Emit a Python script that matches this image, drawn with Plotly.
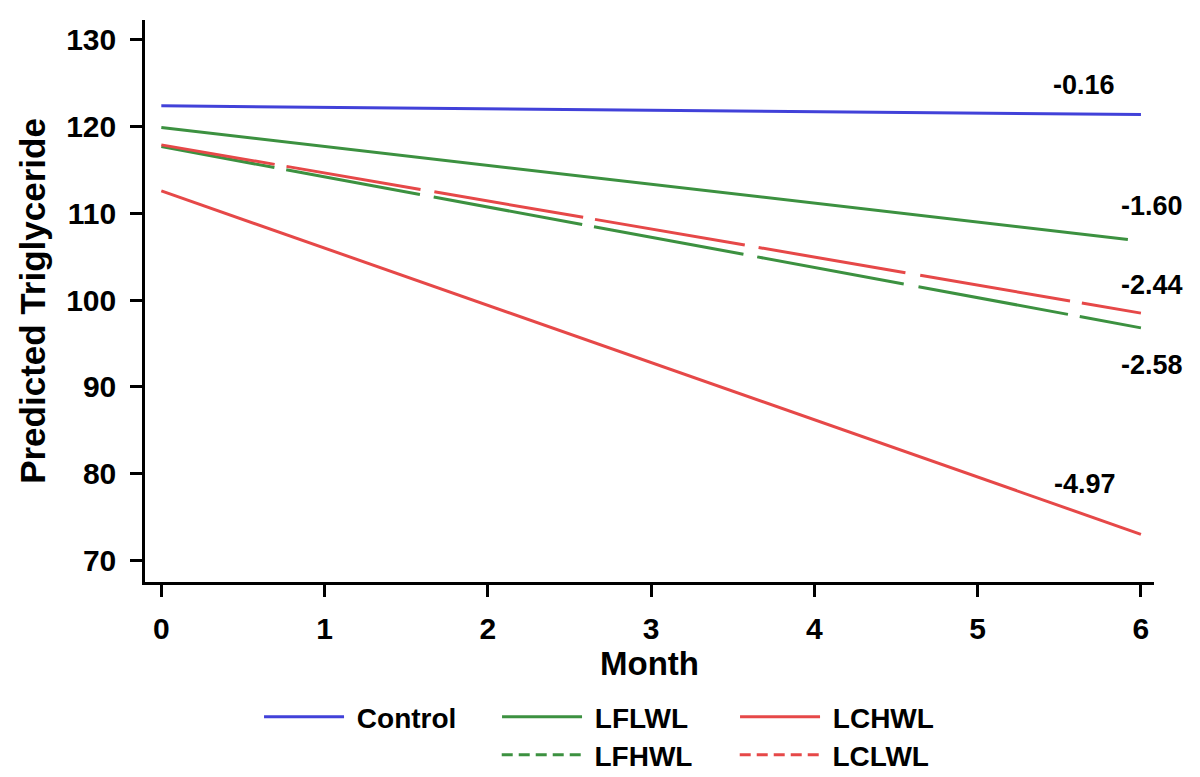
import plotly.graph_objects as go

# values
months = [0, 6]
months_lflwl = [0, 5.92]
control = [122.4, 121.4]
lflwl = [119.9, 107.0]
lfhwl = [117.7, 96.8]
lchwl = [112.6, 73.0]
lclwl = [117.9, 98.5]

slope_labels = ["-0.16", "-1.60", "-2.44", "-2.58", "-4.97"]
label_x = [5.65, 6.07, 6.07, 6.07, 5.66]
label_y = [124.8, 110.8, 101.8, 92.5, 78.8]

BLUE = "#4141D9"
GREEN = "#3C9140"
RED = "#E64848"
FONT = "Liberation Sans, Arial, sans-serif"

# long dashes with short gaps, like the original export
LONG_DASH = "115px,12px,136px,14px,151px,12px,152px,14px,149px,15px,152px,12px,200px"
LEGEND_DASH = "11px,6px"

fig = go.Figure()

series = [
    ("Control", months, control, BLUE, "solid"),
    ("LFLWL", months_lflwl, lflwl, GREEN, "solid"),
    ("LFHWL", months, lfhwl, GREEN, LONG_DASH),
    ("LCHWL", months, lchwl, RED, "solid"),
    ("LCLWL", months, lclwl, RED, LONG_DASH),
]
for name, xs, ys, color, dash in series:
    fig.add_trace(go.Scatter(
        x=xs, y=ys, mode="lines", name=name, showlegend=False,
        line=dict(color=color, width=3, dash=dash),
    ))

# legend keys (row 1 and row 2), short dashes as in the original
legend_rows = [
    ("Control", BLUE, "solid", "legend"),
    ("LFLWL", GREEN, "solid", "legend"),
    ("LCHWL", RED, "solid", "legend"),
    ("LFHWL", GREEN, LEGEND_DASH, "legend2"),
    ("LCLWL", RED, LEGEND_DASH, "legend2"),
]
for name, color, dash, leg in legend_rows:
    fig.add_trace(go.Scatter(
        x=[None], y=[None], mode="lines", name=" " + name, legend=leg,
        line=dict(color=color, width=3, dash=dash),
    ))

for txt, x, y in zip(slope_labels, label_x, label_y):
    fig.add_annotation(x=x, y=y, text=txt, showarrow=False,
                       font=dict(family=FONT, size=27, color="black", weight="bold"))

axis_common = dict(
    showline=True, linecolor="black", linewidth=2.5, mirror=False,
    ticks="outside", ticklen=12, tickwidth=2.5, tickcolor="black",
    showgrid=False, zeroline=False,
    tickfont=dict(family=FONT, size=30, color="black", weight="bold"),
)

fig.update_xaxes(
    range=[-0.1, 6.08], tickmode="array", tickvals=[0, 1, 2, 3, 4, 5, 6],
    ticklabelstandoff=6,
    title=dict(text="Month", font=dict(family=FONT, size=33, color="black", weight="bold"),
               standoff=4),
    **axis_common,
)
fig.update_yaxes(
    range=[67.5, 132.3], tickmode="array", tickvals=[70, 80, 90, 100, 110, 120, 130],
    ticklabelstandoff=8,
    title=dict(text="Predicted Triglyceride",
               font=dict(family=FONT, size=35, color="black", weight="bold"), standoff=10),
    **axis_common,
)

legend_common = dict(
    orientation="h", xanchor="left", yanchor="middle",
    xref="container", yref="container",
    font=dict(family=FONT, size=28, color="black", weight="bold"),
    itemwidth=80, entrywidth=143, entrywidthmode="pixels",
    bgcolor="rgba(0,0,0,0)", tracegroupgap=0,
)

# page body adds an 8px offset, so the figure is 8px smaller on each axis
fig.update_layout(
    width=1192, height=769,
    paper_bgcolor="white", plot_bgcolor="white",
    margin=dict(l=137, r=46, t=12, b=195, autoexpand=False),
    legend=dict(x=0.2106, y=0.078, **legend_common),
    legend2=dict(x=0.410, y=0.0286, **legend_common),
)

fig.write_html("out.html")
